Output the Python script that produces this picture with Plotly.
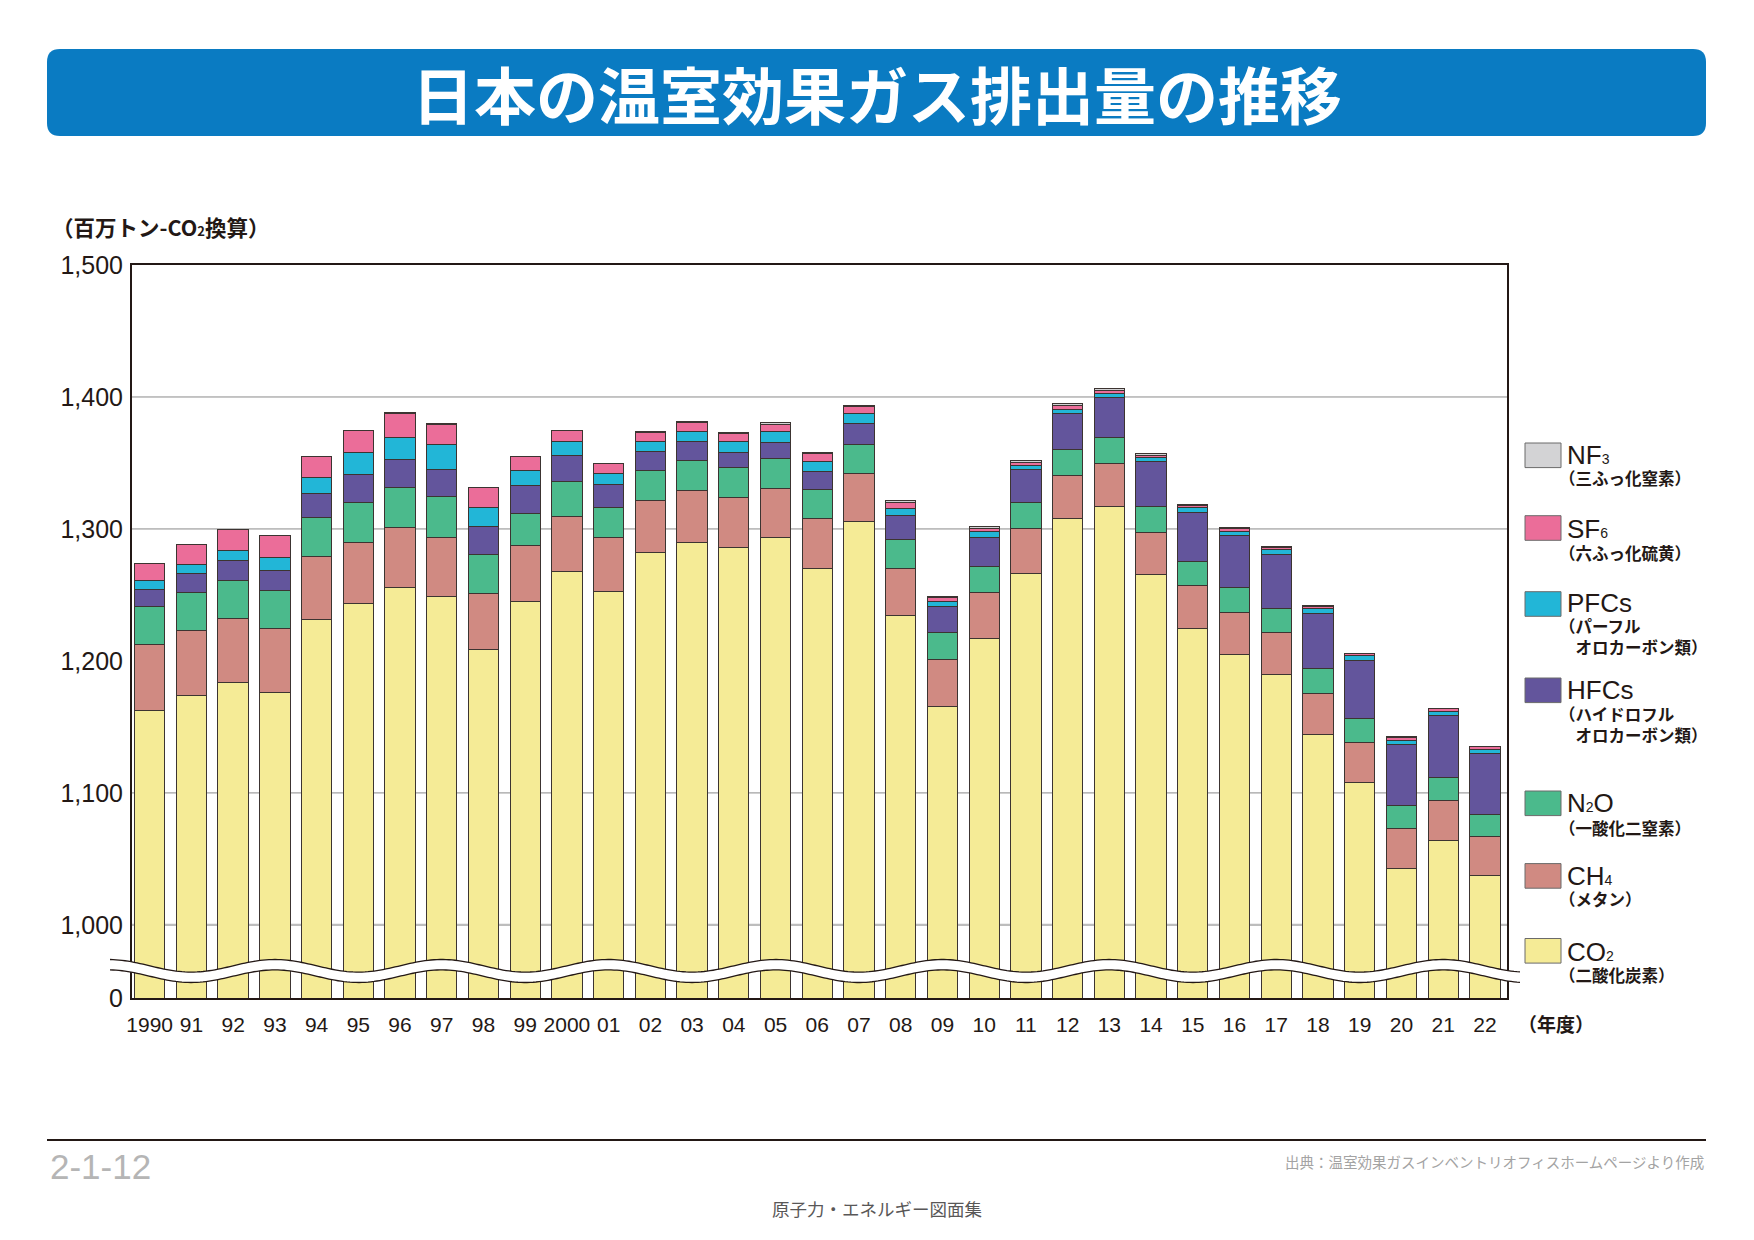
import math
import plotly.graph_objects as go

# 年度ラベル
years = ["1990", "91", "92", "93", "94", "95", "96", "97", "98", "99",
         "2000", "01", "02", "03", "04", "05", "06", "07", "08", "09",
         "10", "11", "12", "13", "14", "15", "16", "17", "18", "19",
         "20", "21", "22"]

# 百万トン-CO2換算
co2 = [1162.8, 1174.1, 1183.8, 1176.4, 1231.5, 1243.6, 1255.8, 1248.7, 1208.8, 1244.9,
       1267.4, 1252.7, 1281.8, 1290.1, 1285.6, 1293.2, 1269.7, 1305.3, 1234.8, 1165.8,
       1217.1, 1266.6, 1307.6, 1316.9, 1265.6, 1224.9, 1205.0, 1189.6, 1144.6, 1107.9,
       1043.0, 1064.2, 1037.4]
ch4 = [49.8, 49.1, 48.7, 48.0, 48.0, 46.5, 45.2, 44.5, 42.4, 42.2,
       41.7, 40.5, 39.7, 38.7, 37.9, 37.6, 37.9, 36.9, 35.6, 35.1,
       34.4, 33.4, 32.6, 32.6, 31.9, 31.9, 31.6, 31.6, 30.8, 30.4,
       30.3, 30.3, 29.6]
n2o = [28.5, 28.3, 28.6, 28.6, 29.3, 29.6, 30.6, 31.1, 29.8, 24.5,
       26.8, 23.2, 22.7, 22.8, 23.0, 22.8, 22.5, 22.0, 21.3, 21.0,
       20.4, 20.2, 19.7, 20.0, 19.2, 18.9, 18.9, 18.7, 18.5, 18.2,
       17.4, 17.4, 16.9]
hfcs = [13.4, 14.9, 15.1, 15.2, 17.7, 21.7, 21.2, 20.9, 20.5, 21.0,
        20.0, 17.0, 14.2, 14.4, 11.4, 11.9, 13.4, 15.4, 18.2, 19.7,
        22.0, 24.5, 27.8, 30.1, 34.3, 36.9, 39.4, 40.9, 42.4, 44.2,
        46.3, 46.8, 46.3]
pfcs = [6.1, 6.8, 7.1, 10.3, 12.4, 16.2, 16.7, 18.5, 14.9, 11.9,
        10.1, 8.8, 8.1, 8.0, 8.3, 8.1, 7.8, 7.6, 5.3, 3.6,
        3.8, 3.3, 3.0, 3.1, 2.8, 3.3, 3.1, 3.5, 3.7, 3.3,
        3.0, 3.1, 2.7]
sf6 = [13.6, 15.2, 16.4, 16.4, 15.9, 17.2, 18.2, 15.7, 14.7, 10.3,
       8.6, 7.1, 6.8, 6.6, 6.3, 5.8, 6.1, 5.3, 4.5, 2.5,
       2.8, 2.5, 2.6, 2.3, 2.1, 2.1, 2.3, 1.6, 1.4, 1.5,
       2.1, 2.0, 2.1]
nf3 = [0.0, 0.0, 0.0, 0.0, 0.0, 0.0, 0.2, 0.2, 0.2, 0.2,
       0.3, 0.3, 0.3, 0.5, 0.5, 1.3, 0.7, 1.3, 1.5, 1.2,
       1.3, 1.6, 1.5, 1.5, 1.0, 0.6, 0.5, 0.5, 0.5, 0.5,
       0.5, 0.5, 0.5]

ytick_vals = [944.6, 1000, 1100, 1200, 1300, 1400, 1500]
ytick_text = ["0", "1,000", "1,100", "1,200", "1,300", "1,400", "1,500"]
grid_vals = [1100, 1300, 1400]


def small(t):
    return f"<span style='font-size:14px'>{t}</span>"


series = [
    ("CO" + small("2"), "（二酸化炭素）", co2, "#f5eb96"),
    ("CH" + small("4"), "（メタン）", ch4, "#d08a82"),
    ("N" + small("2") + "O", "（一酸化二窒素）", n2o, "#4bba8c"),
    ("HFCs", "（ハイドロフル<br>\u3000オロカーボン類）", hfcs, "#63559c"),
    ("PFCs", "（パーフル<br>\u3000オロカーボン類）", pfcs, "#22b6d7"),
    ("SF" + small("6"), "（六ふっ化硫黄）", sf6, "#eb6d99"),
    ("NF" + small("3"), "（三ふっ化窒素）", nf3, "#d3d3d5"),
]

JP = "Noto Sans CJK JP"
NUM = "Liberation Sans, Arial, sans-serif"
INK = "#231815"

# page geometry (pixels of the browser window); the page body has an 8px margin
OFF = 8
W, H = 1754 - 2 * OFF, 1240 - 2 * OFF
L, R, T, B = 132, 1507, 265, 998
YR = [944.6, 1500]
XR = [-0.424, 32.53]


def px(x):
    return (x - L) / (R - L)


def py(y):
    return (B - y) / (B - T)


fig = go.Figure()
for name, sub, vals, color in series:
    fig.add_trace(go.Bar(
        x=years, y=vals, name=name,
        marker=dict(color=color, line=dict(color="#3c3431", width=1)),
        hoverinfo="x+y",
    ))

shapes = []
# gridlines behind bars
shapes.append(dict(type="line", xref="paper", yref="y", x0=0, x1=1, y0=1000, y1=1000,
                   line=dict(color="#bdbdbd", width=2.2), layer="below"))
for g in grid_vals:
    shapes.append(dict(type="line", xref="paper", yref="y", x0=0, x1=1, y0=g, y1=g,
                       line=dict(color="#8a8a8a", width=1), layer="below"))

# axis break wave
def bar_px(i):
    return L + (i - XR[0]) / (XR[1] - XR[0]) * (R - L)

period = bar_px(4) - bar_px(0)
crest = bar_px(-1)
yc, amp, half = 971, 6.3, 5.2
xs = [110 + k * 3 for k in range(int((1521 - 110) / 3) + 1)]
wy = [yc - amp * math.cos(2 * math.pi * (x - crest) / period) for x in xs]
up = [(px(x), py(y - half)) for x, y in zip(xs, wy)]
lo = [(px(x), py(y + half)) for x, y in zip(xs, wy)]


def path(pts):
    return "M " + " L ".join(f"{a:.5f},{b:.5f}" for a, b in pts)


shapes.append(dict(type="path", xref="paper", yref="paper",
                   path=path(up + lo[::-1]) + " Z",
                   fillcolor="white", line=dict(width=0)))
for pts in (up, lo):
    shapes.append(dict(type="path", xref="paper", yref="paper", path=path(pts),
                       line=dict(color=INK, width=1.3)))

# title banner (rounded)
bx0, bx1, by0, by1, r = 47, 1706, 49, 136, 13
banner = (f"M {px(bx0 + r)},{py(by0)} L {px(bx1 - r)},{py(by0)} "
          f"Q {px(bx1)},{py(by0)} {px(bx1)},{py(by0 + r)} "
          f"L {px(bx1)},{py(by1 - r)} Q {px(bx1)},{py(by1)} {px(bx1 - r)},{py(by1)} "
          f"L {px(bx0 + r)},{py(by1)} Q {px(bx0)},{py(by1)} {px(bx0)},{py(by1 - r)} "
          f"L {px(bx0)},{py(by0 + r)} Q {px(bx0)},{py(by0)} {px(bx0 + r)},{py(by0)} Z")
shapes.append(dict(type="path", xref="paper", yref="paper", path=banner,
                   fillcolor="#0a7bc2", line=dict(width=0)))

# footer rule
shapes.append(dict(type="line", xref="paper", yref="paper", x0=px(47), x1=px(1706),
                   y0=py(1140), y1=py(1140), line=dict(color=INK, width=2)))

# legend boxes (CO2 ... NF3, bottom to top)
box_tops = [938.5, 863.6, 791, 678, 591.7, 515.7, 443]
main_y = [952, 876, 803, 690, 603, 529, 455]
sub_y = [975, 899.4, 827.8, 724.4, 636, 552.6, 477.6]
annotations = []
for (name, sub, vals, color), bt, my, sy in zip(series, box_tops, main_y, sub_y):
    shapes.append(dict(type="rect", xref="paper", yref="paper",
                       x0=px(1525), x1=px(1561), y0=py(bt), y1=py(bt + 24.6),
                       fillcolor=color, line=dict(color="#6b6b6b", width=1)))
    annotations.append(dict(text=name, x=px(1565), y=py(my), xref="paper", yref="paper",
                            xanchor="left", yanchor="middle", showarrow=False,
                            font=dict(family=NUM, size=26, color=INK)))
    annotations.append(dict(text=sub, x=px(1557), y=py(sy), xref="paper", yref="paper",
                            xanchor="left", yanchor="middle", showarrow=False, align="left",
                            font=dict(family=JP, size=16.5, color=INK, weight="bold")))


def text(t, x, y, size, color, family=JP, xanchor="left", weight="normal"):
    annotations.append(dict(text=t, x=px(x), y=py(y), xref="paper", yref="paper",
                            xanchor=xanchor, yanchor="middle", showarrow=False,
                            font=dict(family=family, size=size, color=color, weight=weight)))


text("日本の温室効果ガス排出量の推移", 877, 93, 62, "white", xanchor="center", weight="bold")
text("（百万トン-CO<span style='font-size:13px'>2</span>換算）", 50, 227, 21.5, INK,
     weight="bold")
text("（年度）", 1556, 1023.5, 19, INK, xanchor="center", weight="bold")
text("2-1-12", 48, 1166, 35, "#b5b5b5", family=NUM)
text("出典：温室効果ガスインベントリオフィスホームページより作成", 1706, 1161, 14.5,
     "#a3a3a3", xanchor="right")
text("原子力・エネルギー図面集", 877, 1208, 17.5, "#595757", xanchor="center")

fig.update_layout(
    barmode="stack",
    bargap=0.274,
    width=W, height=H, autosize=False,
    margin=dict(l=L - OFF, r=W - (R - OFF), t=T - OFF, b=H - (B - OFF), pad=0),
    paper_bgcolor="white", plot_bgcolor="white",
    showlegend=False,
    shapes=shapes,
    annotations=annotations,
    font=dict(family=NUM, color=INK),
)
fig.update_xaxes(
    type="category", range=XR, showgrid=False, ticks="",
    showline=True, linecolor=INK, linewidth=2, mirror=True,
    tickfont=dict(family=NUM, size=21, color=INK),
    ticklabelstandoff=7,
)
fig.update_yaxes(
    range=YR, tickvals=ytick_vals, ticktext=ytick_text, showgrid=False,
    zeroline=False, ticks="",
    showline=True, linecolor=INK, linewidth=2, mirror=True,
    tickfont=dict(family=NUM, size=25, color=INK),
    ticklabelstandoff=2,
)

fig.write_html("out.html")
